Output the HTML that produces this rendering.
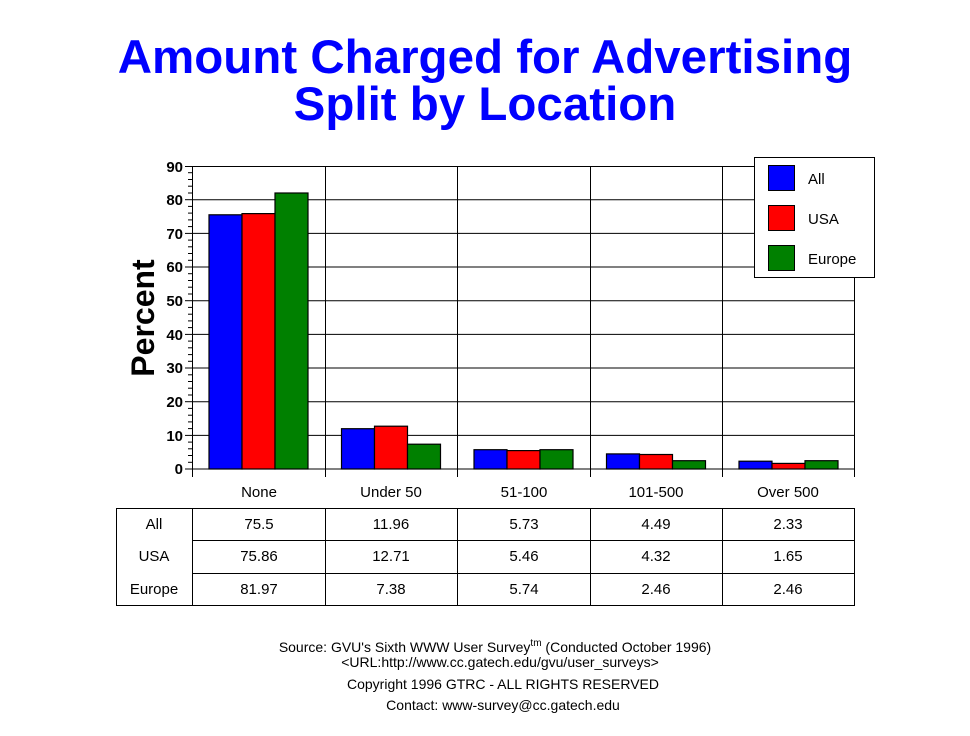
<!DOCTYPE html>
<html><head><meta charset="utf-8"><style>
html,body{margin:0;padding:0;background:#fff;width:970px;height:736px;overflow:hidden}
svg{display:block}
</style></head><body>
<svg width="970" height="736" xmlns="http://www.w3.org/2000/svg" font-family="Liberation Sans, Arial, sans-serif">
<text x="485" y="73" text-anchor="middle" font-size="47.5" font-weight="bold" fill="#0000ff">Amount Charged for Advertising</text>
<text x="485" y="120" text-anchor="middle" font-size="47.5" font-weight="bold" fill="#0000ff">Split by Location</text>
<text transform="translate(154,318) rotate(-90)" text-anchor="middle" font-size="32" font-weight="bold">Percent</text>
<g stroke="#000" stroke-width="1">
<rect x="192.5" y="166.5" width="662" height="302.5" fill="#fff"/>
<line x1="192" y1="435.4" x2="855" y2="435.4"/><line x1="192" y1="401.7" x2="855" y2="401.7"/><line x1="192" y1="368" x2="855" y2="368"/><line x1="192" y1="334.4" x2="855" y2="334.4"/><line x1="192" y1="300.7" x2="855" y2="300.7"/><line x1="192" y1="267" x2="855" y2="267"/><line x1="192" y1="233.4" x2="855" y2="233.4"/><line x1="192" y1="199.7" x2="855" y2="199.7"/>
<line x1="192.5" y1="166" x2="192.5" y2="477"/><line x1="325.5" y1="166" x2="325.5" y2="477"/><line x1="457.5" y1="166" x2="457.5" y2="477"/><line x1="590.5" y1="166" x2="590.5" y2="477"/><line x1="722.5" y1="166" x2="722.5" y2="477"/><line x1="854.5" y1="166" x2="854.5" y2="477"/>
</g>
<g font-size="15" text-anchor="end" font-weight="bold">
<text x="183" y="474">0</text><text x="183" y="441">10</text><text x="183" y="407">20</text><text x="183" y="373">30</text><text x="183" y="340">40</text><text x="183" y="306">50</text><text x="183" y="272">60</text><text x="183" y="239">70</text><text x="183" y="205">80</text><text x="183" y="172">90</text>
</g>
<g stroke="#000" stroke-width="1.2">
<rect x="209" y="214.8" width="33" height="254.2" fill="#0000ff"/>
<rect x="242" y="213.6" width="33" height="255.4" fill="#ff0000"/>
<rect x="275" y="193" width="33" height="276" fill="#008000"/>
<rect x="341.5" y="428.7" width="33" height="40.3" fill="#0000ff"/>
<rect x="374.5" y="426.2" width="33" height="42.8" fill="#ff0000"/>
<rect x="407.5" y="444.2" width="33" height="24.8" fill="#008000"/>
<rect x="474" y="449.7" width="33" height="19.3" fill="#0000ff"/>
<rect x="507" y="450.6" width="33" height="18.4" fill="#ff0000"/>
<rect x="540" y="449.7" width="33" height="19.3" fill="#008000"/>
<rect x="606.5" y="453.9" width="33" height="15.1" fill="#0000ff"/>
<rect x="639.5" y="454.5" width="33" height="14.5" fill="#ff0000"/>
<rect x="672.5" y="460.7" width="33" height="8.3" fill="#008000"/>
<rect x="739" y="461.2" width="33" height="7.8" fill="#0000ff"/>
<rect x="772" y="463.4" width="33" height="5.6" fill="#ff0000"/>
<rect x="805" y="460.7" width="33" height="8.3" fill="#008000"/>
</g>
<rect x="754.5" y="157.5" width="120" height="120" fill="#fff" stroke="#000"/>
<rect x="768.5" y="165.5" width="26" height="25" fill="#0000ff" stroke="#000"/>
<rect x="768.5" y="205.5" width="26" height="25" fill="#ff0000" stroke="#000"/>
<rect x="768.5" y="245.5" width="26" height="25" fill="#008000" stroke="#000"/>
<g font-size="15"><text x="808" y="184">All</text><text x="808" y="224">USA</text><text x="808" y="264">Europe</text></g>
<g font-size="15" text-anchor="middle">
<text x="259" y="497">None</text><text x="391" y="497">Under 50</text><text x="524" y="497">51-100</text><text x="656" y="497">101-500</text><text x="788" y="497">Over 500</text>
</g>
<g stroke="#000" stroke-width="1" fill="none">
<rect x="116.5" y="508.5" width="738" height="97"/>
<line x1="192.5" y1="508" x2="192.5" y2="606"/><line x1="325.5" y1="508" x2="325.5" y2="606"/><line x1="457.5" y1="508" x2="457.5" y2="606"/><line x1="590.5" y1="508" x2="590.5" y2="606"/><line x1="722.5" y1="508" x2="722.5" y2="606"/>
<line x1="192" y1="540.5" x2="855" y2="540.5"/><line x1="192" y1="573.5" x2="855" y2="573.5"/>
</g>
<g font-size="15" text-anchor="middle">
<text x="154" y="529">All</text><text x="154" y="561">USA</text><text x="154" y="594">Europe</text>
<text x="259" y="529">75.5</text><text x="391" y="529">11.96</text><text x="524" y="529">5.73</text><text x="656" y="529">4.49</text><text x="788" y="529">2.33</text>
<text x="259" y="561">75.86</text><text x="391" y="561">12.71</text><text x="524" y="561">5.46</text><text x="656" y="561">4.32</text><text x="788" y="561">1.65</text>
<text x="259" y="594">81.97</text><text x="391" y="594">7.38</text><text x="524" y="594">5.74</text><text x="656" y="594">2.46</text><text x="788" y="594">2.46</text>
</g>
<g font-size="14" text-anchor="middle">
<text x="495" y="652">Source: GVU's Sixth WWW User Survey<tspan font-size="10" dy="-6">tm</tspan><tspan dy="6">  (Conducted October 1996)</tspan></text>
<text x="500" y="667">&lt;URL:http://www.cc.gatech.edu/gvu/user_surveys&gt;</text>
<text x="503" y="689">Copyright 1996 GTRC -  ALL RIGHTS RESERVED</text>
<text x="503" y="710">Contact: www-survey@cc.gatech.edu</text>
</g>
<g stroke="#000">
<line x1="185" y1="469" x2="192" y2="469"/><line x1="185" y1="435.4" x2="192" y2="435.4"/><line x1="185" y1="401.7" x2="192" y2="401.7"/><line x1="185" y1="368" x2="192" y2="368"/><line x1="185" y1="334.4" x2="192" y2="334.4"/><line x1="185" y1="300.7" x2="192" y2="300.7"/><line x1="185" y1="267" x2="192" y2="267"/><line x1="185" y1="233.4" x2="192" y2="233.4"/><line x1="185" y1="199.7" x2="192" y2="199.7"/><line x1="185" y1="166.5" x2="192" y2="166.5"/>
</g>
<g stroke="#000">
<line x1="188" x2="192" y1="462.3" y2="462.3"/><line x1="188" x2="192" y1="455.5" y2="455.5"/><line x1="188" x2="192" y1="448.8" y2="448.8"/><line x1="188" x2="192" y1="442.1" y2="442.1"/>
<line x1="188" x2="192" y1="428.6" y2="428.6"/><line x1="188" x2="192" y1="421.9" y2="421.9"/><line x1="188" x2="192" y1="415.2" y2="415.2"/><line x1="188" x2="192" y1="408.4" y2="408.4"/>
<line x1="188" x2="192" y1="395" y2="395"/><line x1="188" x2="192" y1="388.2" y2="388.2"/><line x1="188" x2="192" y1="381.5" y2="381.5"/><line x1="188" x2="192" y1="374.8" y2="374.8"/>
<line x1="188" x2="192" y1="361.3" y2="361.3"/><line x1="188" x2="192" y1="354.6" y2="354.6"/><line x1="188" x2="192" y1="347.8" y2="347.8"/><line x1="188" x2="192" y1="341.1" y2="341.1"/>
<line x1="188" x2="192" y1="327.6" y2="327.6"/><line x1="188" x2="192" y1="320.9" y2="320.9"/><line x1="188" x2="192" y1="314.2" y2="314.2"/><line x1="188" x2="192" y1="307.4" y2="307.4"/>
<line x1="188" x2="192" y1="294" y2="294"/><line x1="188" x2="192" y1="287.2" y2="287.2"/><line x1="188" x2="192" y1="280.5" y2="280.5"/><line x1="188" x2="192" y1="273.7" y2="273.7"/>
<line x1="188" x2="192" y1="260.3" y2="260.3"/><line x1="188" x2="192" y1="253.5" y2="253.5"/><line x1="188" x2="192" y1="246.8" y2="246.8"/><line x1="188" x2="192" y1="240.1" y2="240.1"/>
<line x1="188" x2="192" y1="226.6" y2="226.6"/><line x1="188" x2="192" y1="219.9" y2="219.9"/><line x1="188" x2="192" y1="213.1" y2="213.1"/><line x1="188" x2="192" y1="206.4" y2="206.4"/>
<line x1="188" x2="192" y1="193" y2="193"/><line x1="188" x2="192" y1="186.2" y2="186.2"/><line x1="188" x2="192" y1="179.5" y2="179.5"/><line x1="188" x2="192" y1="172.7" y2="172.7"/>
</g>
</svg>
</body></html>
